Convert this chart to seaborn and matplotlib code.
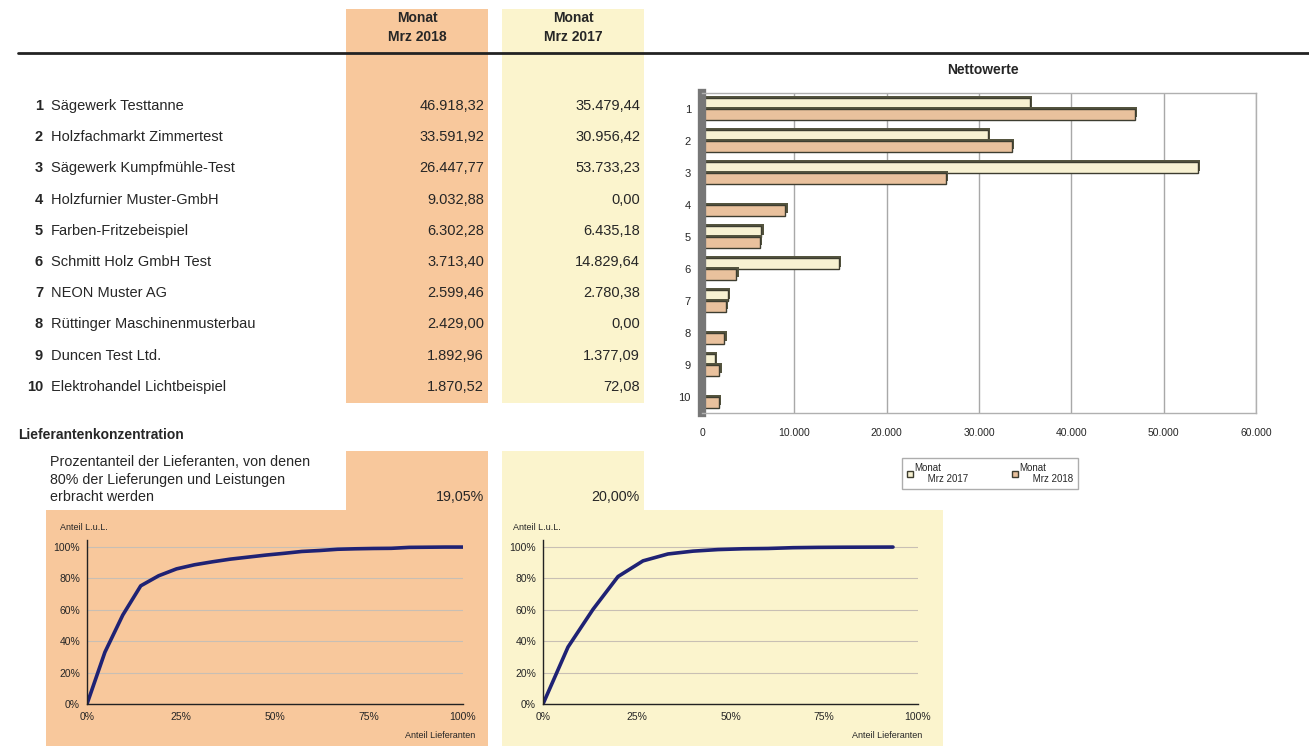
import numpy as np
import pandas as pd
import seaborn as sns
import matplotlib.pyplot as plt
import matplotlib.patheffects as pe
from matplotlib.patches import Rectangle
from matplotlib.lines import Line2D
from matplotlib.ticker import FuncFormatter, PercentFormatter

# --- data ---
ranks = [1, 2, 3, 4, 5, 6, 7, 8, 9, 10]
suppliers = ["Sägewerk Testtanne", "Holzfachmarkt Zimmertest", "Sägewerk Kumpfmühle-Test",
             "Holzfurnier Muster-GmbH", "Farben-Fritzebeispiel", "Schmitt Holz GmbH Test",
             "NEON Muster AG", "Rüttinger Maschinenmusterbau", "Duncen Test Ltd.",
             "Elektrohandel Lichtbeispiel"]
netto_2018 = [46918.32, 33591.92, 26447.77, 9032.88, 6302.28, 3713.40, 2599.46, 2429.00, 1892.96, 1870.52]
netto_2017 = [35479.44, 30956.42, 53733.23, 0.00, 6435.18, 14829.64, 2780.38, 0.00, 1377.09, 72.08]
col_head = ["Monat", "Monat"]
col_period = ["Mrz 2018", "Mrz 2017"]
quote_2018 = "19,05%"
quote_2017 = "20,00%"

# Lieferantenkonzentration (Anteil Lieferanten %, Anteil L.u.L. %)
lief_2018 = [0, 4.76, 9.52, 14.29, 19.05, 23.81, 28.57, 33.33, 38.10, 42.86, 47.62,
             52.38, 57.14, 61.90, 66.67, 71.43, 76.19, 80.95, 85.71, 90.48, 95.24, 100]
lul_2018 = [0, 33.0, 56.7, 75.3, 81.7, 86.1, 88.7, 90.6, 92.3, 93.6, 94.9,
            96.0, 97.2, 97.8, 98.6, 98.9, 99.1, 99.2, 99.8, 99.9, 100, 100]
lief_2017 = [0, 6.67, 13.33, 20.0, 26.67, 33.33, 40.0, 46.67, 53.33, 60.0, 66.67, 73.33, 80.0, 86.67, 93.33]
lul_2017 = [0, 36.3, 60.3, 81.2, 91.2, 95.6, 97.4, 98.4, 98.9, 99.1, 99.6, 99.8, 99.9, 99.95, 100]

ORANGE = "#f8c89c"
YELLOW = "#fbf4cd"
BAR_OR = "#f6c090"
BAR_YE = "#fdf5cc"
NAVY = "#1f2274"

sns.set_style("white")
plt.rcParams['font.family'] = ['Liberation Sans', 'DejaVu Sans']

W, H = 1309, 746
fig = plt.figure(figsize=(13.09, 7.46), dpi=100)


def fx(x):
    return x / W


def fy(y):
    return 1 - y / H


def block(x0, y0, x1, y1, color):
    fig.patches.append(Rectangle((fx(x0), fy(y1)), (x1 - x0) / W, (y1 - y0) / H,
                                 transform=fig.transFigure, facecolor=color,
                                 edgecolor='none', zorder=-2))


def de(v):
    s = f"{v:,.2f}"
    return s.replace(",", "X").replace(".", ",").replace("X", ".")


# background blocks
block(346, 9, 488, 403, ORANGE)
block(502, 9, 644, 403, YELLOW)
block(346, 451, 488, 510, ORANGE)
block(502, 451, 644, 510, YELLOW)
block(46, 510, 488, 746, ORANGE)
block(502, 510, 943, 746, YELLOW)

fig.add_artist(Line2D([fx(18), 1], [fy(53), fy(53)], color="#222222", lw=2))

# header
for cx, head, per in zip([417, 573], col_head, col_period):
    fig.text(fx(cx), fy(18), head, ha='center', va='center', weight='bold', size=10)
    fig.text(fx(cx), fy(37), per, ha='center', va='center', weight='bold', size=10)

# table
for i, (r, name, a, b) in enumerate(zip(ranks, suppliers, netto_2018, netto_2017)):
    y = fy(106 + 31.2 * i)
    fig.text(fx(43), y, str(r), ha='right', va='center', weight='bold', size=10.5)
    fig.text(fx(51), y, name, ha='left', va='center', size=10.5)
    fig.text(fx(484), y, de(a), ha='right', va='center', size=10.5)
    fig.text(fx(640), y, de(b), ha='right', va='center', size=10.5)

# concentration text
fig.text(fx(18), fy(435), "Lieferantenkonzentration", weight='bold', size=10, va='center')
fig.text(fx(50), fy(462), "Prozentanteil der Lieferanten, von denen", size=10.3, va='center')
fig.text(fx(50), fy(480), "80% der Lieferungen und Leistungen", size=10.3, va='center')
fig.text(fx(50), fy(497), "erbracht werden", size=10.3, va='center')
fig.text(fx(484), fy(497), quote_2018, size=10.3, va='center', ha='right')
fig.text(fx(640), fy(497), quote_2017, size=10.3, va='center', ha='right')

# --- Nettowerte bar chart ---
lab17 = "Monat\n     Mrz 2017"
lab18 = "Monat\n     Mrz 2018"
df = pd.DataFrame({
    "Rang": [str(r) for r in ranks] * 2,
    "Netto": netto_2017 + netto_2018,
    "Periode": [lab17] * len(ranks) + [lab18] * len(ranks),
})
ax = fig.add_axes([fx(702), fy(413), (1256 - 702) / W, (413 - 93) / H])
sns.barplot(data=df, y="Rang", x="Netto", hue="Periode", orient='h',
            palette=[BAR_YE, BAR_OR], width=0.66, edgecolor="#3d3d30",
            linewidth=1.0, ax=ax)
ax.set_xlim(0, 60000)
ax.set_xticks(range(0, 60001, 10000))
ax.xaxis.set_major_formatter(FuncFormatter(lambda v, p: f"{int(v):,}".replace(",", ".")))
ax.xaxis.grid(True, color="#a8a8a8", lw=1)
ax.set_axisbelow(True)
ax.set_xlabel("")
ax.set_ylabel("")
ax.tick_params(axis='x', labelsize=7.5, length=3, color="#666666", pad=8)
ax.tick_params(axis='y', labelsize=8, length=0, pad=8)
for s in ax.spines.values():
    s.set_color("#b0b0b0")
    s.set_linewidth(1)
ax.spines['left'].set_color("#777777")
ax.spines['left'].set_linewidth(6)
ax.legend(loc='upper center', bbox_to_anchor=(0.52, -0.125), ncol=2, fontsize=7,
          frameon=True, fancybox=False, edgecolor="#999999", handlelength=0.6,
          handleheight=0.6, handletextpad=0.15, columnspacing=4.5, borderpad=0.5)
# fake 3D depth: dark extrusion up/right of each bar (after legend so handles stay flat)
for p in ax.patches:
    p.set_path_effects([pe.withSimplePatchShadow(offset=(1.6, 1.6), shadow_rgbFace="#55553f", alpha=1.0)])
fig.text(fx(983), fy(70), "Nettowerte", ha='center', va='center', weight='bold', size=10)


# --- concentration curves ---
def curve(x0, x1, xs, ys, lab_left, lab_right):
    a = fig.add_axes([fx(x0), fy(704), (x1 - x0) / W, (704 - 540) / H])
    sns.lineplot(x=xs, y=ys, color=NAVY, lw=2.6, ax=a)
    a.set_facecolor('none')
    a.set_xlim(0, 100)
    a.set_ylim(0, 104.5)
    a.set_xticks([0, 25, 50, 75, 100])
    a.set_yticks([0, 20, 40, 60, 80, 100])
    a.xaxis.set_major_formatter(PercentFormatter(decimals=0))
    a.yaxis.set_major_formatter(PercentFormatter(decimals=0))
    a.yaxis.grid(True, color="#c8bfb4", lw=0.8)
    a.spines['top'].set_visible(False)
    a.spines['right'].set_visible(False)
    for s in ['left', 'bottom']:
        a.spines[s].set_color("#222222")
        a.spines[s].set_linewidth(1)
    a.tick_params(axis='x', direction='inout', length=6, labelsize=7.5, pad=3)
    a.tick_params(axis='y', direction='out', length=3, labelsize=7.5, pad=2)
    a.set_xlabel("")
    a.set_ylabel("")
    fig.text(fx(lab_left), fy(528), "Anteil L.u.L.", size=6.5, va='center')
    fig.text(fx(lab_right), fy(735), "Anteil Lieferanten", size=6.5, va='center', ha='right')


curve(87, 463, lief_2018, lul_2018, 60, 475)
curve(543, 918, lief_2017, lul_2017, 513, 922)

fig.savefig("out.png", dpi=100)
